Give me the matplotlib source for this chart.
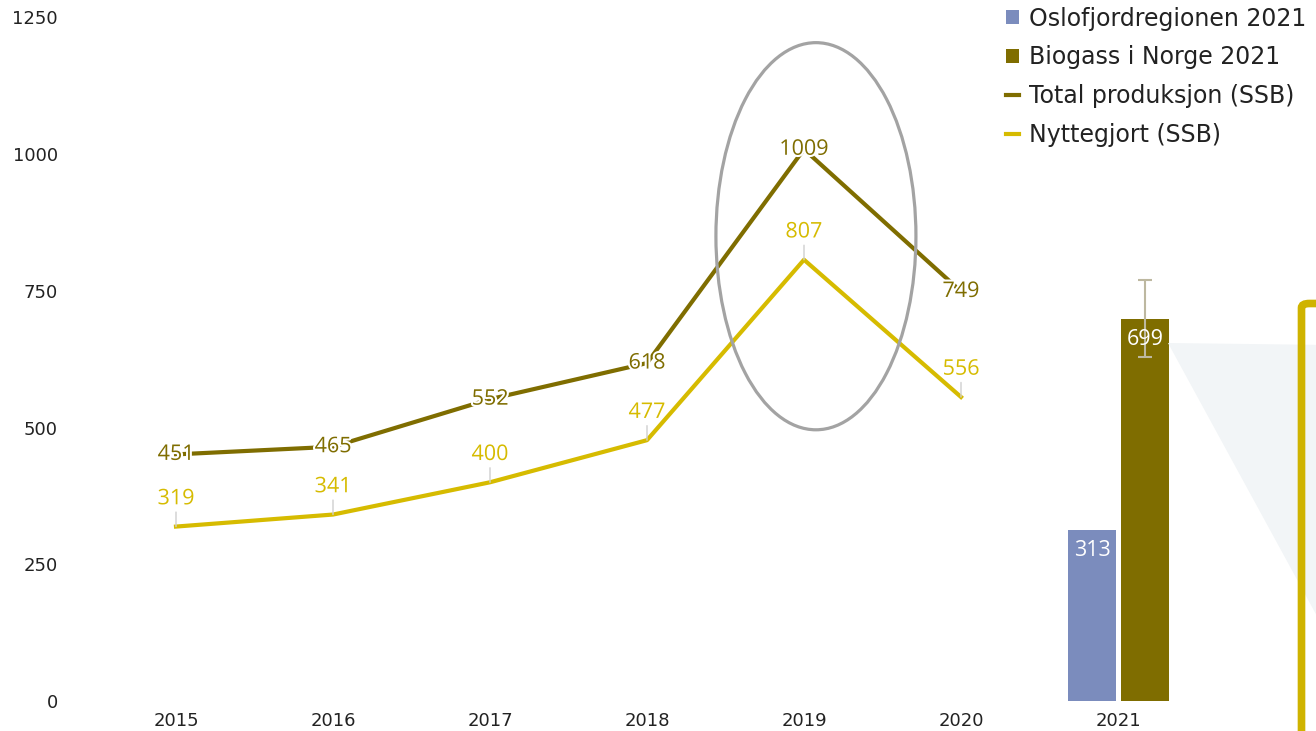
import matplotlib.pyplot as plt
import matplotlib.patheffects as pe
from matplotlib.patches import Ellipse, Polygon, FancyBboxPatch

years = [2015, 2016, 2017, 2018, 2019, 2020]
total_produksjon = [451, 465, 552, 618, 1009, 749]
nyttegjort = [319, 341, 400, 477, 807, 556]

bar_year = 2021
oslofjord_2021 = 313
biogass_2021 = 699
biogass_err = [[70], [71]]

yticks = [0, 250, 500, 750, 1000, 1250]
xticks = [2015, 2016, 2017, 2018, 2019, 2020, 2021]

olive = "#7f6d00"
yellow = "#d6bb00"
blue = "#7b8cbd"

W, H = 1316, 731
fig = plt.figure(figsize=(W / 100, H / 100), dpi=100)
ax = fig.add_axes([66 / W, 30 / H, (W - 66) / W, (701 - 17.5) / H])

# pale wedge and gold frame on the right
wedge = Polygon([(1168 / W, 1 - 343 / H), (1330 / W, 1 - 345 / H), (1330 / W, 1 - 640 / H)],
                closed=True, transform=fig.transFigure, facecolor="#f2f5f7",
                edgecolor="none", zorder=0)
fig.patches.append(wedge)
frame = FancyBboxPatch((1301.5 / W, -20 / H), 200 / W, (731 + 20 - 303.5) / H,
                       boxstyle="round,pad=0,rounding_size=0.006",
                       transform=fig.transFigure, facecolor="none",
                       edgecolor="#cfb300", linewidth=5.5, zorder=0)
fig.patches.append(frame)

l_total, = ax.plot(years, total_produksjon, color=olive, lw=3, zorder=3)
l_nytte, = ax.plot(years, nyttegjort, color=yellow, lw=3, zorder=3)

b1 = ax.bar(bar_year - 0.165, oslofjord_2021, width=0.306, color=blue, zorder=2)
b2 = ax.bar(bar_year + 0.172, biogass_2021, width=0.306, color=olive, zorder=2)
ax.errorbar(bar_year + 0.172, biogass_2021, yerr=biogass_err, fmt="none",
            ecolor="#bdb8a0", elinewidth=1.5, capsize=5, capthick=1.5, zorder=4)

# highlight around 2019
ax.add_patch(Ellipse((2019.076, 850), 1.274, 708, facecolor="none",
                     edgecolor="#a3a3a3", lw=2.3, zorder=4))

halo = [pe.withStroke(linewidth=3, foreground="white")]
label_font = dict(family="Open Sans", fontsize=15.5)

for x, y in zip(years, total_produksjon):
    ax.annotate(str(y), (x, y), ha="center", va="center", color=olive,
                path_effects=halo, zorder=6, **label_font)

for x, y in zip(years, nyttegjort):
    ax.annotate(str(y), (x, y), xytext=(0, 20), textcoords="offset points",
                ha="center", va="center", color=yellow, path_effects=halo,
                arrowprops=dict(arrowstyle="-", color="#cfcfcf", lw=1,
                                shrinkA=0, shrinkB=0),
                zorder=6, **label_font)

for bar, val in [(b1[0], oslofjord_2021), (b2[0], biogass_2021)]:
    ax.annotate(str(val), (bar.get_x() + bar.get_width() / 2, val),
                xytext=(0, -15), textcoords="offset points", ha="center",
                va="center", color="white", zorder=5, **label_font)

ax.set_xlim(2015 + (66 - 176) / 157, 2015 + (W - 176) / 157)
ax.set_ylim(0, 1250)
ax.set_xticks(xticks)
ax.set_yticks(yticks)
ax.tick_params(length=0, labelsize=13, colors="#222222")
ax.tick_params(axis="x", pad=8)
ax.tick_params(axis="y", pad=6)
for s in ax.spines.values():
    s.set_visible(False)
ax.patch.set_alpha(0)

leg = fig.legend([b1, b2, l_total, l_nytte],
                 ["Oslofjordregionen 2021", "Biogass i Norge 2021",
                  "Total produksjon (SSB)", "Nyttegjort (SSB)"],
                 loc="upper left", bbox_to_anchor=(1001 / W, 1 - 2 / H),
                 frameon=False, fontsize=17, handlelength=0.55, handleheight=0.55,
                 handletextpad=0.45, labelspacing=0.62, borderpad=0.2,
                 borderaxespad=0)
for t in leg.get_texts():
    t.set_color("#222222")

fig.savefig("out.png", dpi=100)
